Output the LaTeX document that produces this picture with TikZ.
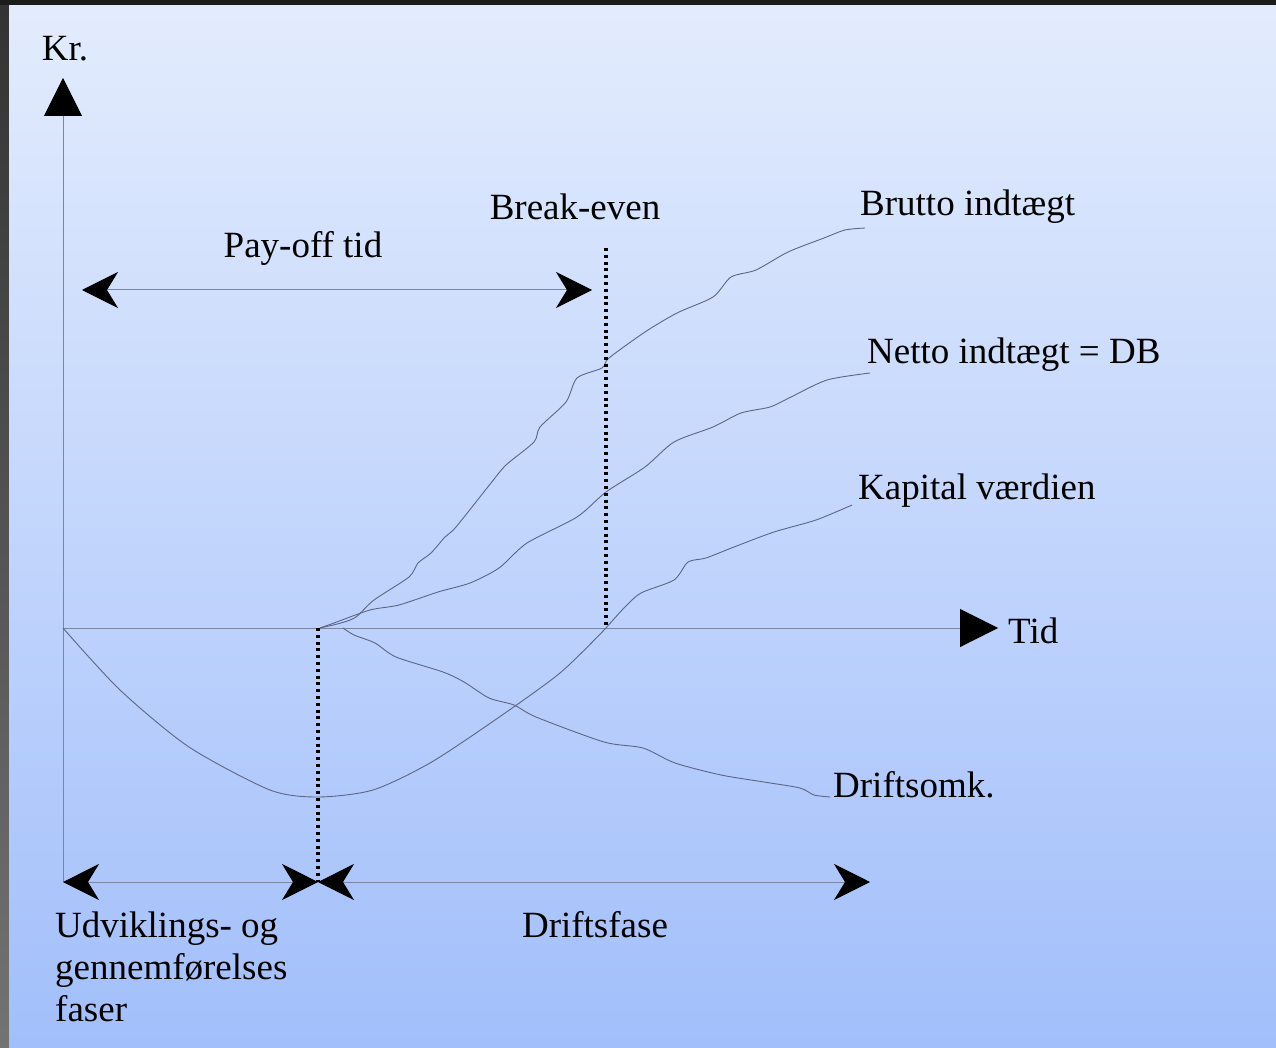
\documentclass[tikz,border=0pt]{standalone}
\usepackage{fontspec}
\setmainfont{Liberation Serif}
\usepackage{tikz}
\usetikzlibrary{arrows.meta,positioning}
\definecolor{lysblaa}{RGB}{227,236,253}
\definecolor{blaa}{RGB}{162,191,251}
\definecolor{akse}{RGB}{122,134,164}
\definecolor{kurve}{RGB}{92,102,132}
\definecolor{kant}{RGB}{28,28,28}

\begin{document}
\begin{tikzpicture}[x=1pt,y=-1pt,
lbl/.style={font=\fontsize{37}{42}\selectfont,inner sep=0pt},
axis/.style={draw=akse,line width=1pt,-{Triangle[length=38pt,width=38pt,color=black]}},
crv/.style={draw=kurve,line width=0.9pt,smooth,tension=0.45},
prik/.style={line width=3.4pt,dash pattern=on 3pt off 3.8pt},
dbl/.style={draw=akse,line width=1pt,{Stealth[length=36pt,width=36pt,inset=11pt,color=black]}-{Stealth[length=36pt,width=36pt,inset=11pt,color=black]}}
]
\useasboundingbox (0,0) rectangle (1276,1048);
\fill[kant] (0,0) rectangle (1276,1048);
\shade[top color=black!80,bottom color=black!55] (0,6) rectangle (9,1048);
\shade[top color=lysblaa,bottom color=blaa] (9,6) rectangle (1276,1048);

\coordinate (O) at (63,628);
\coordinate (ytop) at (63,78);
\coordinate (ybund) at (63,882);
\coordinate (xend) at (998,628);
\coordinate (start) at (318,628);
\coordinate (start2) at (318,882);
\coordinate (be) at (606,628);
\coordinate (betop) at (606,248);
\coordinate (dend) at (870,882);
\coordinate (pl) at (82,290);
\coordinate (pr) at (592,290);

\draw[axis] (ybund) -- (ytop);
\draw[axis] (O) -- (xend);

\draw[crv] plot coordinates {(O) (120,690) (189,747) (270,790) (318,797) (373,790) (430,763) (495,720) (560,673) (606,628)};
\draw[crv] plot coordinates {(343,628) (354,635) (375,643) (396,657) (443,672) (464,682) (489,698) (514,705) (536,717) (604,742) (643,748) (675,763) (721,775) (764,782) (800,788) (814,795) (830,797)};
\draw[crv] plot coordinates {(320,628) (341,623) (356,617) (374,600) (409,577) (418,563) (431,553) (445,537) (456,527) (491,483) (506,465) (534,442) (540,427) (566,402) (577,378) (602,368) (609,358) (645,332) (677,313) (713,297) (731,277) (756,270) (788,252) (824,238) (845,230) (865,228)};
\draw[crv] plot coordinates {(320,628) (334,623) (370,610) (399,605) (438,592) (470,583) (499,568) (527,543) (577,517) (606,492) (645,467) (674,442) (713,427) (741,413) (770,407) (791,397) (827,380) (870,373)};
\draw[crv] plot coordinates {(be) (624,608) (641,593) (674,580) (688,562) (706,558) (734,547) (774,532) (816,520) (852,505)};

\draw[prik] (betop) -- (be);
\draw[prik] (start) -- (start2);

\draw[dbl] (pl) -- (pr);
\draw[dbl] (ybund) -- (start2);
\draw[dbl] (start2) -- (dend);

\node[lbl] (kr) at (65,49) {Kr.};
\node[lbl,anchor=west] (tid) at (1008,631) {Tid};
\node[lbl] (breakeven) at (575,207) {Break-even};
\node[lbl] (payoff) at (303,248) {Pay-off tid};
\node[lbl,anchor=west] (brutto) at (860,207) {Brutto indtægt};
\node[lbl,anchor=west] (netto) at (867,355) {Netto indtægt = DB};
\node[lbl,anchor=west] (kapital) at (858,491) {Kapital værdien};
\node[lbl,anchor=west] (drift) at (833,785) {Driftsomk.};
\node[lbl] (driftsfase) at (595,925) {Driftsfase};
\node[lbl,anchor=north west,align=left] (udv) at (55,912) {Udviklings- og\\gennemførelses\\faser};
\end{tikzpicture}
\end{document}
